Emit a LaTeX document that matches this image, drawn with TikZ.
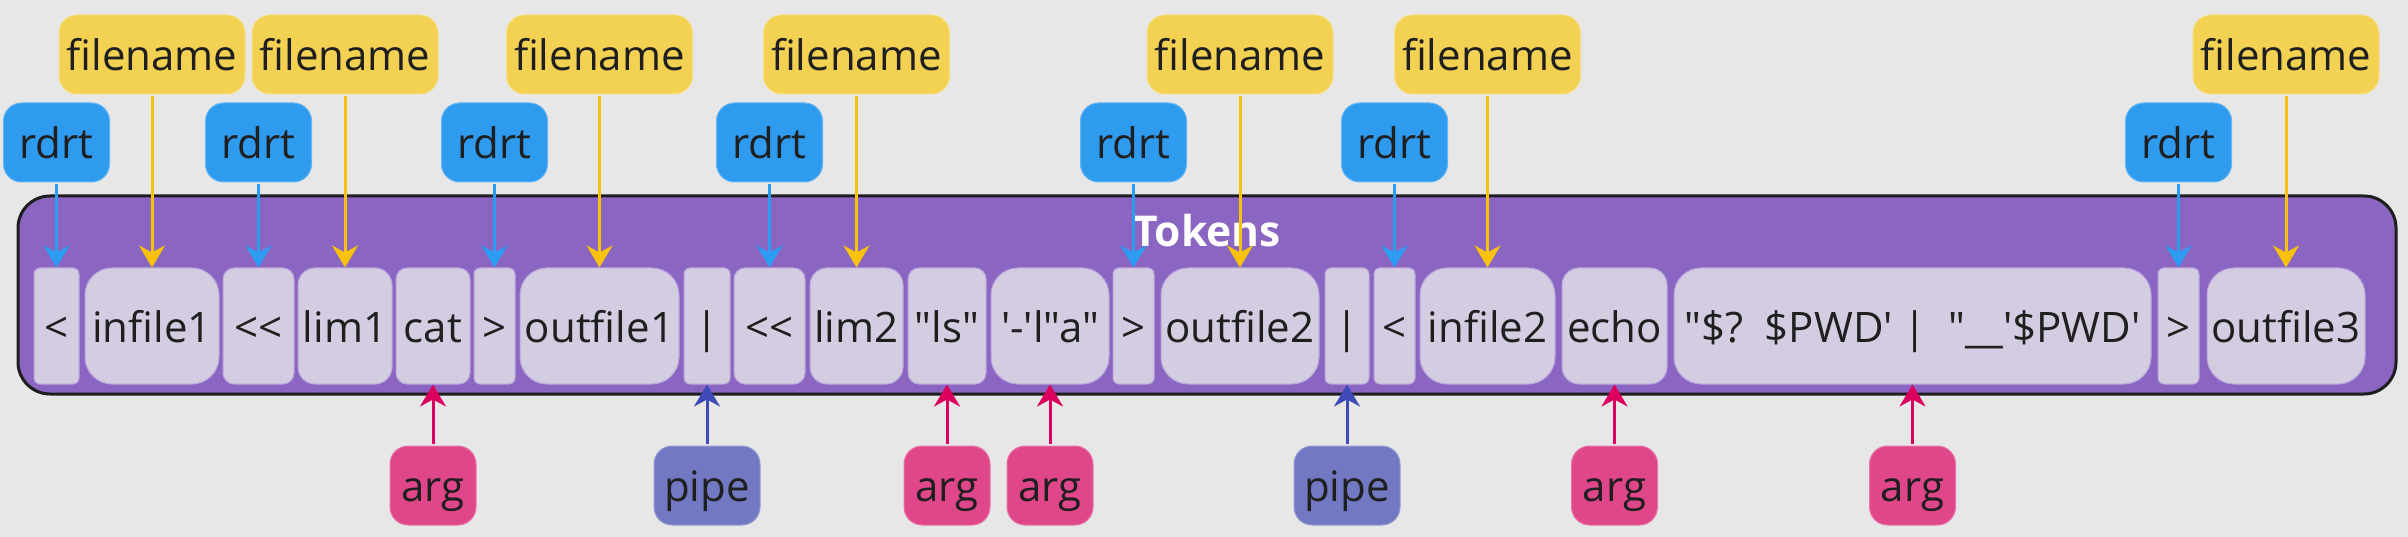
\documentclass[tikz,border=0pt]{standalone}
\usepackage{fontspec}
\newfontfamily\osans{Open Sans}
\usetikzlibrary{arrows.meta}
\definecolor{bgcol}{HTML}{E7E7E7}
\definecolor{purp}{HTML}{8B65C2}
\definecolor{boxline}{HTML}{1E1E1E}
\definecolor{tokfill}{HTML}{D4CCE1}
\definecolor{tokline}{HTML}{B9A6DD}
\definecolor{txt}{HTML}{1F1F1F}
\definecolor{yel}{HTML}{F3D152}
\definecolor{yelarr}{HTML}{F8C20A}
\definecolor{blu}{HTML}{2E9BEF}
\definecolor{bluarr}{HTML}{2B9CF2}
\definecolor{pnk}{HTML}{E0468A}
\definecolor{pnkarr}{HTML}{DB005E}
\definecolor{ind}{HTML}{7278C2}
\definecolor{indarr}{HTML}{3E4AB6}
\tikzset{
  tok/.style={fill=tokfill, draw=tokline, line width=1pt, inner sep=0pt,
    minimum height=116pt, text height=37pt, text depth=5pt,
    font=\osans\fontsize{42}{50}\selectfont, text=txt},
  tokn/.style={tok, minimum width=#1, rounded corners=6pt},
  toks/.style={tok, minimum width=#1, rounded corners=11pt},
  tokm/.style={tok, minimum width=#1, rounded corners=17pt},
  tokw/.style={tok, minimum width=#1, rounded corners=27pt},
  lab/.style={inner sep=0pt, minimum height=79pt, rounded corners=18pt,
    text height=37pt, text depth=5pt, line width=1pt,
    font=\osans\fontsize{42}{50}\selectfont, text=txt},
  fnbox/.style={lab, fill=yel, draw=yel!70!white, minimum width=186pt},
  rdbox/.style={lab, fill=blu, draw=blu!75!white, minimum width=106pt},
  argbox/.style={lab, fill=pnk, draw=pnk!75!white, minimum width=86pt},
  pipebox/.style={lab, fill=ind, draw=ind!75!white, minimum width=106pt},
  arr/.style={line width=3pt, -{Stealth[length=22pt,width=26pt,inset=7pt]}},
  yarr/.style={arr, draw=yelarr, fill=yelarr, shorten <=2pt},
  barr/.style={arr, draw=bluarr, fill=bluarr, shorten <=2pt},
  parr/.style={arr, draw=pnkarr, fill=pnkarr, shorten <=2pt},
  iarr/.style={arr, draw=indarr, fill=indarr, shorten <=2pt},
}
\begin{document}
\begin{tikzpicture}[x=1pt,y=-1pt]
\fill[bgcol] (0,0) rectangle (2408,537);
\useasboundingbox (0,0) rectangle (2408,537);
% container
\node[fill=purp, draw=boxline, line width=3pt, rounded corners=32pt,
  minimum width=2378pt, minimum height=198pt, inner sep=0pt] (box) at (1207,295) {};
\node[font=\osans\bfseries\fontsize{42.5}{50}\selectfont, text=white, anchor=base, inner sep=0pt] (title) at (1207,247) {Tokens};
% tokens
\node[tokn=45pt]  (t1)  at (56.5,326) {<};
\node[tokw=134pt] (t2)  at (152,326) {infile1};
\node[toks=71pt]  (t3)  at (258.5,326) {<<};
\node[tokm=94pt]  (t4)  at (345,326) {lim1};
\node[toks=74pt]  (t5)  at (433,326) {cat};
\node[tokn=41pt]  (t6)  at (494.5,326) {>};
\node[tokw=159pt] (t7)  at (599.5,326) {outfile1};
\node[tokn=46pt]  (t8)  at (707,326) {|};
\node[toks=71pt]  (t9)  at (769.5,326) {<<};
\node[tokm=93pt]  (t10) at (856.5,326) {lim2};
\node[toks=78pt]  (t11) at (947,326) {"ls"};
\node[tokw=118pt] (t12) at (1050,326) {'-'l"a"};
\node[tokn=41pt]  (t13) at (1133.5,326) {>};
\node[tokw=158pt] (t14) at (1240,326) {outfile2};
\node[tokn=44pt]  (t15) at (1347,326) {|};
\node[tokn=41pt]  (t16) at (1394.5,326) {<};
\node[tokw=135pt] (t17) at (1487.5,326) {infile2};
\node[tokm=105pt] (t18) at (1614.5,326) {echo};
\node[tokw=477pt] (t19) at (1912.5,326) {"\$?\ \ \$PWD' |\ \ "\_\_'\$PWD'};
\node[tokn=41pt]  (t20) at (2178.5,326) {>};
\node[tokw=158pt] (t21) at (2286,326) {outfile3};
% filename labels
\node[fnbox] (f1) at (152,54.5) {filename};
\node[fnbox] (f2) at (345,54.5) {filename};
\node[fnbox] (f3) at (599.5,54.5) {filename};
\node[fnbox] (f4) at (856.5,54.5) {filename};
\node[fnbox] (f5) at (1240,54.5) {filename};
\node[fnbox] (f6) at (1487.5,54.5) {filename};
\node[fnbox] (f7) at (2286,54.5) {filename};
% rdrt labels
\node[rdbox] (r1) at (56.5,142.5) {rdrt};
\node[rdbox] (r2) at (258.5,142.5) {rdrt};
\node[rdbox] (r3) at (494.5,142.5) {rdrt};
\node[rdbox] (r4) at (769.5,142.5) {rdrt};
\node[rdbox] (r5) at (1133.5,142.5) {rdrt};
\node[rdbox] (r6) at (1394.5,142.5) {rdrt};
\node[rdbox] (r7) at (2178.5,142.5) {rdrt};
% arg / pipe labels
\node[argbox] (a1) at (433,485.5) {arg};
\node[pipebox] (p1) at (707,485.5) {pipe};
\node[argbox] (a2) at (947,485.5) {arg};
\node[argbox] (a3) at (1050,485.5) {arg};
\node[pipebox] (p2) at (1347,485.5) {pipe};
\node[argbox] (a4) at (1614.5,485.5) {arg};
\node[argbox] (a5) at (1912.5,485.5) {arg};
% arrows
\draw[yarr] (f1.south) -- (t2.north);
\draw[yarr] (f2.south) -- (t4.north);
\draw[yarr] (f3.south) -- (t7.north);
\draw[yarr] (f4.south) -- (t10.north);
\draw[yarr] (f5.south) -- (t14.north);
\draw[yarr] (f6.south) -- (t17.north);
\draw[yarr] (f7.south) -- (t21.north);
\draw[barr] (r1.south) -- (t1.north);
\draw[barr] (r2.south) -- (t3.north);
\draw[barr] (r3.south) -- (t6.north);
\draw[barr] (r4.south) -- (t9.north);
\draw[barr] (r5.south) -- (t13.north);
\draw[barr] (r6.south) -- (t16.north);
\draw[barr] (r7.south) -- (t20.north);
\draw[parr] (a1.north) -- (t5.south);
\draw[iarr] (p1.north) -- (t8.south);
\draw[parr] (a2.north) -- (t11.south);
\draw[parr] (a3.north) -- (t12.south);
\draw[iarr] (p2.north) -- (t15.south);
\draw[parr] (a4.north) -- (t18.south);
\draw[parr] (a5.north) -- (t19.south);
\end{tikzpicture}
\end{document}
